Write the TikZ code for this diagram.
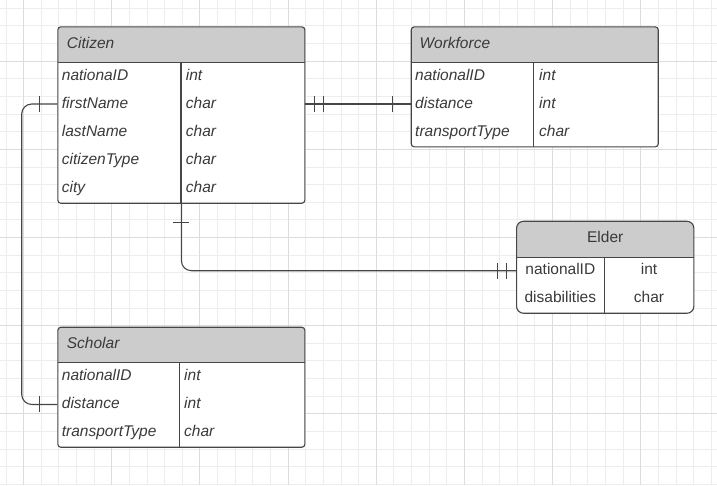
\documentclass[tikz,border=0pt]{standalone}
\usepackage{fontspec}
\setmainfont{Liberation Sans}
\usetikzlibrary{calc,decorations.markings}
\definecolor{gridminor}{RGB}{237,237,237}
\definecolor{gridmajor}{RGB}{220,220,220}
\definecolor{headgray}{RGB}{204,204,204}
\definecolor{edgegray}{RGB}{70,70,70}
\definecolor{textgray}{RGB}{58,58,58}
\newcommand\erfont{\fontsize{15.5pt}{18pt}\selectfont}
\tikzset{
  entity/.style  = {rectangle, draw=edgegray, line width=1.1pt,
                    rounded corners=3pt, fill=white, anchor=north west,
                    inner sep=0pt,
                    path picture={\fill[headgray, sharp corners]
                        (path picture bounding box.north west)
                        rectangle ([yshift=-#1]path picture bounding box.north east);
                      \draw[edgegray, line width=1.1pt, sharp corners]
                        ([yshift=-#1]path picture bounding box.north west)
                        -- ([yshift=-#1]path picture bounding box.north east);}},
  field/.style   = {anchor=west, inner sep=0pt, text height=11pt,
                    text depth=2.5pt, text=textgray, font=\erfont\itshape},
  cell/.style    = {field, anchor=center, font=\erfont},
  divline/.style = {draw=edgegray, line width=1.1pt},
  rel/.style     = {draw=edgegray, line width=1.1pt, rounded corners=10pt},
  bar/.style     = {postaction={decorate, decoration={markings,
                      mark=at position #1 with {\draw[edgegray, line width=1pt]
                        (0pt,-8pt) -- (0pt,8pt);}}}}
}

\begin{document}
\begin{tikzpicture}[x=1pt, y=-1pt]
  \path[use as bounding box, fill=white] (0,0) rectangle (717,485);
  % grid paper
  \foreach \i in {0,...,40}
    \draw[gridminor, line width=0.9pt] (6+17.63*\i,0) -- (6+17.63*\i,485);
  \foreach \j in {0,...,27}
    \draw[gridminor, line width=0.9pt] (0,8.3+17.63*\j) -- (717,8.3+17.63*\j);
  \foreach \i in {1,6,...,36}
    \draw[gridmajor, line width=0.9pt] (6+17.63*\i,0) -- (6+17.63*\i,485);
  \foreach \j in {3,8,...,23}
    \draw[gridmajor, line width=0.9pt] (0,8.3+17.63*\j) -- (717,8.3+17.63*\j);

  % Citizen
  \node[entity=35.4pt, minimum width=247pt, minimum height=176.4pt] (citizen) at (57.3,26.3) {};
  \node[field] (citizen-title) at ($(citizen.north west)+(9.4,17.7)$) {Citizen};
  \draw[divline] ($(citizen.north west)+(123.7,35.4)$) -- ($(citizen.south west)+(123.7,0)$);
  \foreach \f/\t [count=\i] in {nationaID/int, firstName/char, lastName/char,
                                citizenType/char, city/char} {
    \node[field] (citizen-f\i) at ($(citizen.north west)+(4.4,21.3+28.2*\i)$) {\f};
    \node[field] (citizen-t\i) at ($(citizen.north west)+(128.4,21.3+28.2*\i)$) {\t};
  }

  % Workforce
  \node[entity=35.4pt, minimum width=247pt, minimum height=120pt] (workforce) at (410.7,26.3) {};
  \node[field] (workforce-title) at ($(workforce.north west)+(8.6,17.7)$) {Workforce};
  \draw[divline] ($(workforce.north west)+(123,35.4)$) -- ($(workforce.south west)+(123,0)$);
  \foreach \f/\t [count=\i] in {nationalID/int, distance/int, transportType/char} {
    \node[field] (workforce-f\i) at ($(workforce.north west)+(4.3,21.3+28.2*\i)$) {\f};
    \node[field] (workforce-t\i) at ($(workforce.north west)+(128.3,21.3+28.2*\i)$) {\t};
  }

  % Elder
  \node[entity=36pt, rounded corners=7pt, minimum width=177.3pt, minimum height=92pt] (elder) at (516,220.7) {};
  \node[cell] (elder-title) at ($(elder.north)+(0,18)$) {Elder};
  \draw[divline] ($(elder.north west)+(88.7,36)$) -- ($(elder.south west)+(88.7,0)$);
  \foreach \f/\t [count=\i] in {nationalID/int, disabilities/char} {
    \node[cell] (elder-f\i) at ($(elder.north west)+(44.35,22+28*\i)$) {\f};
    \node[cell] (elder-t\i) at ($(elder.north west)+(133,22+28*\i)$) {\t};
  }

  % Scholar
  \node[entity=35.6pt, minimum width=247pt, minimum height=120pt] (scholar) at (57.3,326.7) {};
  \node[field] (scholar-title) at ($(scholar.north west)+(9.4,17.8)$) {Scholar};
  \draw[divline] ($(scholar.north west)+(122,35.6)$) -- ($(scholar.south west)+(122,0)$);
  \foreach \f/\t [count=\i] in {nationalID/int, distance/int, transportType/char} {
    \node[field] (scholar-f\i) at ($(scholar.north west)+(4.4,21.55+28.1*\i)$) {\f};
    \node[field] (scholar-t\i) at ($(scholar.north west)+(126.7,21.55+28.1*\i)$) {\t};
  }

  % relationships
  \coordinate (lane) at (21.7,0);
  \draw[rel, bar=9.4pt, bar=18pt, bar=-18.4pt]
    (citizen-f2 -| citizen.east) -- (workforce-f2 -| workforce.west);
  \draw[rel, bar=19pt, bar=-18.7pt, bar=-10pt]
    (citizen.south) -- (citizen.south |- elder-f1) -- (elder-f1 -| elder.west);
  \draw[rel, bar=18pt, bar=-18pt]
    (citizen-f2 -| citizen.west) -- (citizen-f2 -| lane)
    -- (scholar-f2 -| lane) -- (scholar-f2 -| scholar.west);
\end{tikzpicture}
\end{document}
